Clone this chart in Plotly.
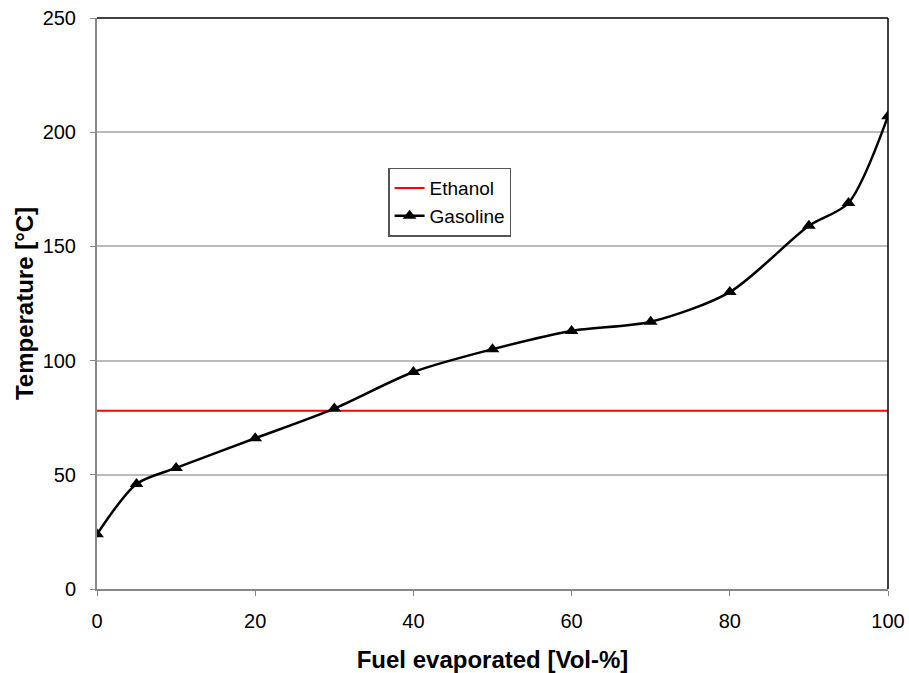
import plotly.graph_objects as go

x_vals = [0, 5, 10, 20, 30, 40, 50, 60, 70, 80, 90, 95, 100]
gasoline = [24, 46, 53, 66, 79, 95, 105, 113, 117, 130, 159, 169, 207]
ethanol_temp = 78
x_range = [0, 100]

fig = go.Figure()
fig.add_trace(go.Scatter(x=x_range, y=[ethanol_temp, ethanol_temp], mode="lines",
                         name="Ethanol", line=dict(color="#ff0000", width=2)))
fig.add_trace(go.Scatter(x=x_vals, y=gasoline, mode="lines+markers", name="Gasoline",
                         line=dict(color="black", width=2.5, shape="spline", smoothing=0.8),
                         marker=dict(symbol="triangle-up", size=12, color="black")))

fig.update_layout(
    width=909, height=673,
    margin=dict(l=97, r=21, t=18, b=84),
    paper_bgcolor="white", plot_bgcolor="white",
    font=dict(family="Liberation Sans, Arial", size=20, color="black"),
    showlegend=True,
    legend=dict(x=0.368, y=0.738, xanchor="left", yanchor="top",
                bgcolor="white", bordercolor="#555555", borderwidth=1.5,
                font=dict(size=19), tracegroupgap=0, itemwidth=30),
    xaxis=dict(range=[0, 100], tickvals=[0, 20, 40, 60, 80, 100], showgrid=False,
               zeroline=False, showline=True, linecolor="#888888", linewidth=2,
               ticks="outside", tickcolor="#888888", ticklen=5, mirror=False,
               automargin=False, ticklabelstandoff=8,
               title=dict(text="<b>Fuel evaporated [Vol-%]</b>", font=dict(size=24), standoff=20)),
    yaxis=dict(range=[0, 250], tickvals=[0, 50, 100, 150, 200, 250], showgrid=True,
               gridcolor="#bbbbbb", gridwidth=1.5, zeroline=False, showline=True,
               linecolor="#888888", linewidth=2, ticks="outside", tickcolor="#888888",
               ticklen=5, automargin=False, ticklabelstandoff=10,
               title=dict(text="<b>Temperature [°C]</b>", font=dict(size=24), standoff=2)),
)
fig.add_shape(type="line", xref="paper", yref="paper", x0=0, x1=1, y0=1, y1=1,
              line=dict(color="black", width=1.5))
fig.add_shape(type="line", xref="paper", yref="paper", x0=1, x1=1, y0=0, y1=1,
              line=dict(color="black", width=1.5))

fig.write_html("out.html")
